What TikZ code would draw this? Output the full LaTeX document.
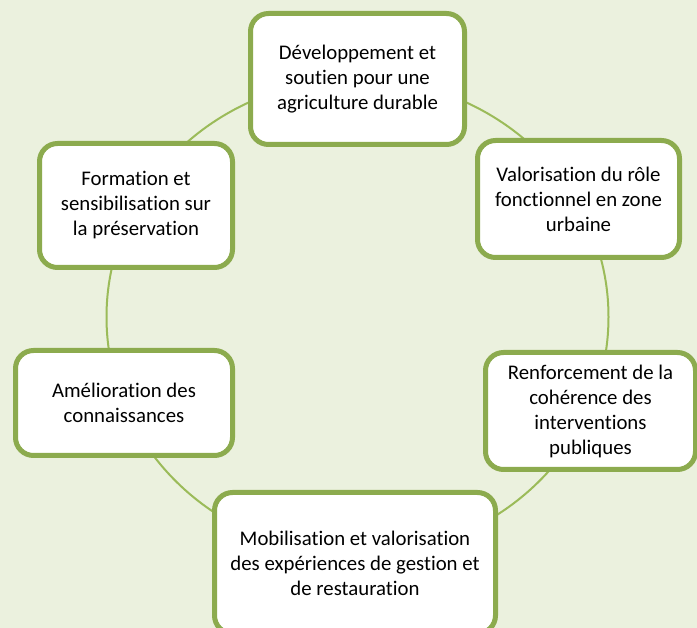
\documentclass[tikz,border=0pt]{standalone}
\usepackage{fontspec}
\setmainfont{Carlito}[Ligatures={NoCommon}]
\definecolor{bgc}{HTML}{EBF1DE}
\definecolor{boxline}{HTML}{8CAB4E}
\definecolor{ringc}{HTML}{9BBB59}
\tikzset{
  stagebox/.style={draw=boxline, line width=5pt, fill=white, rounded corners=18pt,
    align=center, inner sep=0pt, font=\fontsize{20.8}{25}\selectfont, text=black},
}
\begin{document}
\begin{tikzpicture}[x=1pt,y=-1pt]
\fill[bgc] (0,0) rectangle (697,628);
\useasboundingbox (0,0) rectangle (697,628);
\draw[ringc, line width=2pt] (357.5,317) ellipse [x radius=251, y radius=238];
\node[stagebox, minimum width=214pt, minimum height=131pt] (n1) at (357.5,79)
  {Développement et\\soutien pour une\\agriculture durable};
\node[stagebox, minimum width=202pt, minimum height=117pt] (n2) at (578.5,199)
  {Valorisation du rôle\\fonctionnel en zone\\urbaine};
\node[stagebox, minimum width=210pt, minimum height=117pt] (n3) at (590.5,411)
  {Renforcement de la\\cohérence des\\interventions\\publiques};
\node[stagebox, minimum width=281pt, minimum height=141pt] (n4) at (355,563)
  {Mobilisation et valorisation\\des expériences de gestion et\\de restauration};
\node[stagebox, minimum width=217pt, minimum height=105pt] (n5) at (124,403)
  {Amélioration des\\connaissances};
\node[stagebox, minimum width=193pt, minimum height=124pt] (n6) at (136,205.5)
  {Formation et\\sensibilisation sur\\la préservation};
\end{tikzpicture}
\end{document}
